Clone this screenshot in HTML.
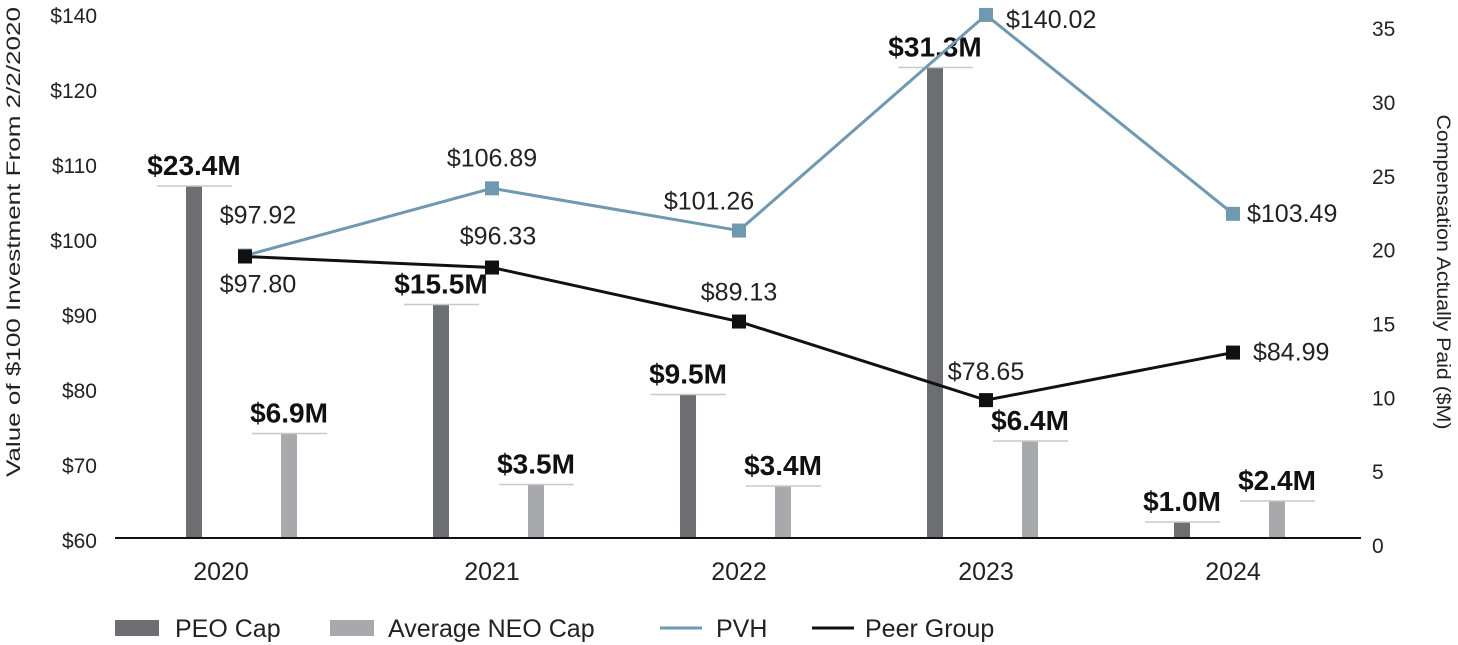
<!DOCTYPE html>
<html><head><meta charset="utf-8"><style>
html,body{margin:0;padding:0;background:#fff;width:1458px;height:645px;overflow:hidden}
svg{display:block;font-family:"Liberation Sans",sans-serif}
</style></head><body>
<svg id="chart" width="1458" height="645" viewBox="0 0 1458 645"></svg>
<script>
const years = ["2020","2021","2022","2023","2024"];
const peoCap = [23.4, 15.5, 9.5, 31.3, 1.0];
const neoCap = [6.9, 3.5, 3.4, 6.4, 2.4];
const pvh = [97.92, 106.89, 101.26, 140.02, 103.49];
const peer = [97.80, 96.33, 89.13, 78.65, 84.99];
const leftTicks = [60,70,80,90,100,110,120,140];
const rightTicks = [0,5,10,15,20,25,30,35];

const NS="http://www.w3.org/2000/svg";
const svg=document.getElementById('chart');
function mk(tag,attrs,text){const e=document.createElementNS(NS,tag);for(const k in attrs)e.setAttribute(k,attrs[k]);if(text!==undefined)e.textContent=text;svg.appendChild(e);return e;}
const leftPos=[540,465,390,315,240,165,90,15];
function yL(v){for(let i=0;i<leftTicks.length-1;i++){const a=leftTicks[i],b=leftTicks[i+1];if(v<=b||i===leftTicks.length-2){return leftPos[i]+(v-a)/(b-a)*(leftPos[i+1]-leftPos[i]);}}}
function yR(v){return 545-v*14.77;}
function yBar(v){return 537-v*15;}
function xCat(i){return 245+i*247;}

leftTicks.forEach((t,i)=>{const e=mk('text',{x:97,y:yL(t)+8,'text-anchor':'end','font-size':21,fill:'#222'},'$'+t);
});
rightTicks.forEach(t=>{const e=mk('text',{x:1372,y:yR(t)+8,'font-size':21,fill:'#222'},t);
});
let e=mk('text',{transform:'translate(20,242) rotate(-90)','text-anchor':'middle','font-size':19,fill:'#222',textLength:470,lengthAdjust:'spacingAndGlyphs'},'Value of $100 Investment From 2/2/2020');

e=mk('text',{transform:'translate(1437,272) rotate(90)','text-anchor':'middle','font-size':19,fill:'#222',textLength:315,lengthAdjust:'spacingAndGlyphs'},'Compensation Actually Paid ($M)');


years.forEach((y,i)=>{
 const px=xCat(i)-51, nx=px+95;
 let top=yBar(peoCap[i]);
 let b=mk('rect',{x:px-8,y:top,width:16,height:537-top,fill:'#6d6e71'});
 
 let c=mk('line',{x1:px-37,x2:px+38,y1:top,y2:top,stroke:'#c8c8c8','stroke-width':1.5});
 
 let l=mk('text',{x:px,y:top-11,'text-anchor':'middle','font-size':28,'font-weight':'bold',fill:'#111'},'$'+peoCap[i].toFixed(1)+'M');
 
 top=yBar(neoCap[i]);
 b=mk('rect',{x:nx-8,y:top,width:16,height:537-top,fill:'#a7a9ac'});
 
 c=mk('line',{x1:nx-37,x2:nx+38,y1:top,y2:top,stroke:'#c8c8c8','stroke-width':1.5});
 
 l=mk('text',{x:nx,y:top-11,'text-anchor':'middle','font-size':28,'font-weight':'bold',fill:'#111'},'$'+neoCap[i].toFixed(1)+'M');
 
 l=mk('text',{x:xCat(i)-(i===0?24:0),y:580,'text-anchor':'middle','font-size':25,fill:'#222'},y);
 
});
e=mk('line',{x1:115,x2:1361,y1:538,y2:538,stroke:'#111','stroke-width':2});


function series(vals,color,name,labelPos){
 const pts=vals.map((v,i)=>[xCat(i),yL(v)]);
 const p=mk('polyline',{points:pts.map(q=>q.join(',')).join(' '),fill:'none',stroke:color,'stroke-width':3});
 
 pts.forEach((q,i)=>{
  const m=mk('rect',{x:q[0]-7,y:q[1]-7,width:14,height:14,fill:color});
  
  const lp=labelPos[i];
  const t=mk('text',{x:q[0]+lp[0],y:q[1]+lp[1],'text-anchor':lp[2],'font-size':25,fill:'#222'},'$'+vals[i].toFixed(2));
  
 });
}
series(pvh,'#6f99b0','pvh',[[13,-32,'middle'],[0,-22,'middle'],[-30,-21,'middle'],[20,13,'start'],[14,8,'start']]);
series(peer,'#111','peer',[[13,36,'middle'],[6,-23,'middle'],[0,-21,'middle'],[0,-20,'middle'],[20,8,'start']]);

const leg=[['PEO Cap','#6d6e71','bar',115,175],['Average NEO Cap','#a7a9ac','bar',330,388],['PVH','#6f99b0','line',660,716],['Peer Group','#111','line',812,865]];
leg.forEach(g=>{
 let s;
 if(g[2]==='bar') s=mk('rect',{x:g[3],y:620,width:44,height:16,fill:g[1]});
 else s=mk('line',{x1:g[3],x2:g[3]+42,y1:628,y2:628,stroke:g[1],'stroke-width':3});
 
 const t=mk('text',{x:g[4],y:637,'font-size':25,fill:'#222'},g[0]);
 
});
</script>
</body></html>
